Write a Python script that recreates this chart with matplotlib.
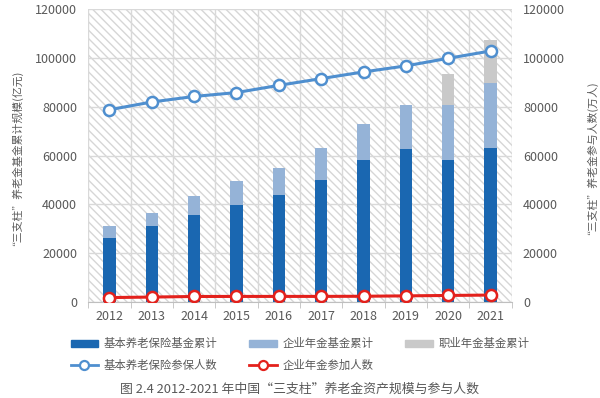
import matplotlib.pyplot as plt
from matplotlib.patches import Rectangle
from matplotlib.lines import Line2D
import numpy as np

plt.rcParams['font.family'] = ['Noto Sans CJK SC', 'DejaVu Sans']
plt.rcParams['hatch.linewidth'] = 1.0

years = ['2012', '2013', '2014', '2015', '2016', '2017', '2018', '2019', '2020', '2021']
basic_fund = [26243, 31275, 35645, 39937, 43965, 50202, 58151, 62872, 58076, 63181]
enterprise_fund = [4821, 5200, 7689, 9526, 11075, 12880, 14770, 17985, 22497, 26406]
occupational_fund = [0, 0, 0, 0, 0, 0, 0, 0, 12900, 17900]
basic_people = [78796, 81968, 84232, 85833, 88777, 91548, 94293, 96754, 99865, 102871]
enterprise_people = [1847, 2056, 2293, 2316, 2325, 2331, 2388, 2548, 2718, 2875]

c_dark = '#1a67b1'
c_light = '#95b3d7'
c_gray = '#c9c9c9'
c_line = '#4f8fcf'
c_red = '#e3211c'
c_text = '#595959'

fig = plt.figure(figsize=(6, 3.98), dpi=100)
ax = fig.add_axes([0.147, 0.241, 0.706, 0.736])
x = np.arange(len(years))

# hatched background
bg = Rectangle((0, 0), 1, 1, transform=ax.transAxes, facecolor='white',
               edgecolor='#d6d6d6', hatch='\\\\\\\\', linewidth=0, zorder=0)
ax.add_patch(bg)

w = 0.29
bottom2 = np.array(basic_fund) + np.array(enterprise_fund)
ax.bar(x, basic_fund, w, color=c_dark, zorder=3)
ax.bar(x, enterprise_fund, w, bottom=basic_fund, color=c_light, zorder=3)
ax.bar(x, occupational_fund, w, bottom=bottom2, color=c_gray, zorder=3)

ax2 = ax.twinx()
ax2.plot(x, basic_people, color=c_line, lw=2.2, marker='o', ms=8,
         mfc='white', mec=c_line, mew=1.8, zorder=4)
ax2.plot(x, enterprise_people, color=c_red, lw=2.2, marker='o', ms=8,
         mfc='white', mec=c_red, mew=1.8, zorder=4)

for a in (ax, ax2):
    a.set_ylim(0, 120000)
    a.set_yticks(range(0, 120001, 20000))
    a.set_xlim(-0.5, len(years) - 0.5)
    for s in a.spines.values():
        s.set_visible(False)
    a.tick_params(axis='y', length=0, labelsize=9, colors=c_text, pad=8)

ax.spines['bottom'].set_visible(True)
ax.spines['bottom'].set_color('#bfbfbf')
ax.set_xticks(x)
ax.set_xticklabels(years)
ax.set_xticks(np.arange(-0.5, len(years)), minor=True)
ax.tick_params(axis='x', which='major', length=0, labelsize=9, colors=c_text, pad=6)
ax.tick_params(axis='x', which='minor', length=4, color='#bfbfbf')
ax.grid(True, axis='y', color='#d9d9d9', lw=1, zorder=1)
ax.grid(True, axis='x', which='minor', color='#d9d9d9', lw=1, zorder=1)
ax.set_axisbelow(True)

fig.text(0.02, 0.61, '“三支柱”养老金基金累计规模(亿元)', rotation=90, ha='center',
         va='center', fontsize=7.8, color=c_text)
fig.text(0.977, 0.61, '“三支柱”养老金参与人数(万人)', rotation=90, ha='center',
         va='center', fontsize=7.8, color=c_text)

handles = [
    Rectangle((0, 0), 1, 1, color=c_dark),
    Line2D([], [], color=c_line, lw=2, marker='o', ms=6.5, mfc='white', mec=c_line, mew=1.6),
    Rectangle((0, 0), 1, 1, color=c_light),
    Line2D([], [], color=c_red, lw=2, marker='o', ms=6.5, mfc='white', mec=c_red, mew=1.6),
    Rectangle((0, 0), 1, 1, color=c_gray),
]
labels = ['基本养老保险基金累计', '基本养老保险参保人数', '企业年金基金累计',
          '企业年金参加人数', '职业年金基金累计']
leg = fig.legend(handles, labels, ncol=3, loc='center', bbox_to_anchor=(0.5, 0.109),
                 frameon=False, fontsize=8.2, handlelength=2.4, handleheight=0.55,
                 columnspacing=2.8, labelspacing=0.95, handletextpad=0.5)
for t in leg.get_texts():
    t.set_color(c_text)

fig.text(0.5, 0.023, '图 2.4 2012-2021 年中国“三支柱”养老金资产规模与参与人数',
         ha='center', va='center', fontsize=9.3, color=c_text)

fig.savefig('out.png', dpi=100)
